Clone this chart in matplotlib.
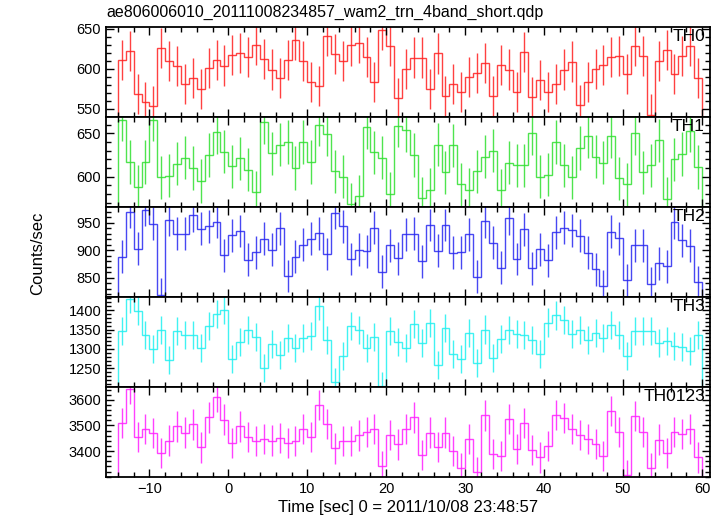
import numpy as np
import matplotlib
matplotlib.use("Agg")
import matplotlib.pyplot as plt
from matplotlib.ticker import MultipleLocator
from matplotlib.transforms import offset_copy

plt.rcParams['font.family'] = ['Liberation Sans', 'DejaVu Sans']

# ==============================
# Data (1 s bins, start times)
# ==============================
bin_start = -14
bin_width = 1.0

th0 = [611, 622, 569, 558, 553, 626, 610, 603, 581, 589, 575, 601, 611, 604, 617, 620,
       615, 630, 612, 599, 588, 611, 636, 610, 583, 579, 641, 618, 610, 629, 632, 615,
       583, 648, 628, 564, 600, 614, 614, 575, 619, 566, 581, 571, 590, 595, 607, 566,
       605, 599, 571, 621, 565, 586, 571, 581, 599, 609, 555, 583, 600, 605, 615, 616,
       593, 628, 616, 543, 610, 623, 593, 616, 628, 589]
th1 = [666, 617, 588, 617, 666, 599, 601, 615, 622, 610, 595, 625, 651, 629, 612, 621,
       608, 582, 663, 627, 637, 640, 610, 640, 617, 660, 649, 606, 600, 568, 577, 657,
       628, 622, 580, 659, 654, 625, 575, 585, 637, 605, 636, 591, 585, 606, 623, 630,
       584, 616, 613, 613, 650, 600, 602, 640, 613, 599, 633, 647, 623, 616, 647, 598,
       591, 650, 605, 613, 642, 574, 620, 626, 653, 611]
th2 = [888, 970, 903, 974, 948, 819, 955, 930, 930, 964, 939, 944, 952, 891, 927, 935,
       883, 896, 921, 901, 940, 853, 888, 910, 921, 931, 893, 968, 944, 884, 901, 898,
       941, 861, 909, 885, 929, 930, 880, 946, 899, 946, 895, 896, 929, 852, 953, 914,
       868, 958, 884, 938, 867, 902, 882, 933, 941, 936, 926, 895, 865, 834, 934, 922,
       845, 909, 909, 839, 876, 871, 951, 918, 908, 842]
th3 = [1347, 1428, 1397, 1335, 1301, 1349, 1272, 1347, 1337, 1337, 1303, 1360, 1391, 1401, 1274, 1317,
       1349, 1331, 1251, 1314, 1285, 1328, 1303, 1328, 1334, 1410, 1322, 1215, 1282, 1358, 1349, 1303,
       1332, 1206, 1347, 1317, 1303, 1363, 1315, 1367, 1259, 1354, 1287, 1274, 1342, 1265, 1350, 1277,
       1325, 1349, 1339, 1336, 1323, 1288, 1368, 1386, 1375, 1339, 1349, 1323, 1340, 1328, 1362, 1336,
       1282, 1347, 1347, 1345, 1315, 1321, 1308, 1305, 1295, 1337]
th0123 = [3510, 3642, 3456, 3487, 3469, 3393, 3441, 3496, 3472, 3504, 3414, 3531, 3610, 3523, 3430, 3496,
          3456, 3438, 3448, 3441, 3452, 3432, 3438, 3487, 3456, 3580, 3506, 3410, 3438, 3439, 3461, 3475,
          3487, 3340, 3464, 3426, 3485, 3531, 3385, 3472, 3415, 3472, 3399, 3332, 3448, 3317, 3539, 3389,
          3380, 3526, 3407, 3510, 3403, 3375, 3421, 3541, 3530, 3485, 3463, 3447, 3429, 3380, 3557, 3474,
          3308, 3537, 3474, 3335, 3445, 3393, 3474, 3466, 3485, 3375]

# typical 1-sigma error per band
errors = [25, 25, 30, 36, 59]

labels = ["TH0", "TH1", "TH2", "TH3", "TH0123"]
colors = ["#ff2020", "#30e030", "#2828f0", "#20f0f0", "#ff20ff"]
ylims = [(540, 652), (565, 669), (815, 979), (1203, 1434), (3300, 3651)]
yticks = [[550, 600, 650], [600, 650], [850, 900, 950], [1250, 1300, 1350, 1400], [3400, 3500, 3600]]
yminor = [10, 10, 10, 10, 20]
series = [th0, th1, th2, th3, th0123]

# ==============================
# Plot
# ==============================
fig, axes = plt.subplots(5, 1, sharex=True, figsize=(7.23, 5.16), dpi=100)
fig.subplots_adjust(left=0.1466, right=0.982, top=0.9477, bottom=0.0762, hspace=0)

for ax, vals, err, lab, col, yl, yt, ym in zip(axes, series, errors, labels, colors, ylims, yticks, yminor):
    vals = np.array(vals, dtype=float)
    edges = bin_start + bin_width * np.arange(len(vals) + 1)
    centers = edges[:-1] + bin_width / 2
    ax.stairs(vals, edges, color=col, lw=1.0, alpha=0.85)
    ax.vlines(centers, vals - err, vals + err, color=col, lw=1.0, alpha=0.85)
    ax.set_ylim(*yl)
    ax.set_yticks(yt)
    ax.yaxis.set_minor_locator(MultipleLocator(ym))
    ax.xaxis.set_major_locator(MultipleLocator(10))
    ax.xaxis.set_minor_locator(MultipleLocator(2))
    ax.tick_params(which='both', direction='in', top=True, right=True, labelsize=10.5, width=1.0)
    ax.tick_params(which='major', length=6)
    ax.tick_params(which='minor', length=3.5)
    for s in ax.spines.values():
        s.set_linewidth(1.3)
    tr = offset_copy(ax.transAxes, fig=fig, x=-5, y=-2, units='dots')
    ax.text(1.0, 1.0, lab, transform=tr, ha='right', va='top', fontsize=12.5)

axes[-1].set_xlim(-15.5, 61.0)
axes[-1].set_xlabel("Time [sec] 0 = 2011/10/08 23:48:57", fontsize=12, labelpad=3)
fig.text(0.052, 0.51, "Counts/sec", rotation=90, ha='center', va='center', fontsize=12)
axes[0].set_title("ae806006010_20111008234857_wam2_trn_4band_short.qdp", loc='left', fontsize=11.5, pad=7)

plt.savefig("out.png", dpi=100)
